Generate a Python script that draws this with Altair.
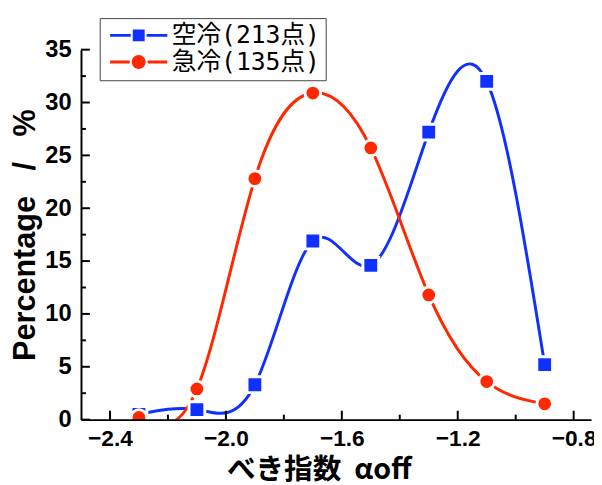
import altair as alt
import pandas as pd

# ---- data ----
alpha_off = [-2.3, -2.1, -1.9, -1.7, -1.5, -1.3, -1.1, -0.9]
air_cooled = [0.5, 0.95, 3.3, 16.9, 14.6, 27.2, 32.0, 5.2]      # 空冷(213点)
quenched = [0.2, 2.9, 22.8, 30.9, 25.7, 11.8, 3.6, 1.5]         # 急冷(135点)
series_names = ["空冷(213点)", "急冷(135点)"]
colors = ["#1030FF", "#FF2800"]
x_major = [-2.4, -2.0, -1.6, -1.2, -0.8]
x_minor = [-2.2, -1.8, -1.4, -1.0]
y_major = [0, 5, 10, 15, 20, 25, 30, 35]
y_minor = [2.5, 7.5, 12.5, 17.5, 22.5, 27.5, 32.5]

W, H = 517, 375

df = pd.DataFrame({
    "a": alpha_off + alpha_off,
    "p": air_cooled + quenched,
    "s": [series_names[0]] * len(alpha_off) + [series_names[1]] * len(alpha_off),
})

xs = alt.Scale(domain=[-2.5, -0.74], nice=False, zero=False)
ys = alt.Scale(domain=[0, 35], nice=False, zero=False)

main_x = alt.Axis(values=x_major, format=".1f", ticks=False, grid=False,
                  domainColor="black", domainWidth=2, zindex=1,
                  labelFont="Liberation Sans", labelFontWeight="bold", labelFontSize=23,
                  labelColor="black", labelPadding=8, labelFlush=False,
                  title="べき指数\u00a0\u00a0αoff", titleFont="Noto Sans CJK JP", titleFontSize=29,
                  titleFontWeight="bold", titleColor="black", titlePadding=6, titleX=241)
main_y = alt.Axis(values=y_major, format="d", ticks=False, grid=False,
                  domainColor="black", domainWidth=2, zindex=1,
                  labelFont="Liberation Sans", labelFontWeight="bold", labelFontSize=24,
                  labelColor="black", labelPadding=10, labelFlush=False,
                  title="Percentage\u00a0\u00a0\u00a0/\u00a0\u00a0\u00a0%", titleFont="Liberation Sans",
                  titleFontSize=31, titleFontWeight="bold", titleColor="black", titlePadding=3)

base = alt.Chart(df)

blue_line = base.transform_filter(alt.datum.s == series_names[0]).mark_line(
    interpolate="natural", clip=True, strokeWidth=3, color=colors[0]
).encode(x=alt.X("a:Q", scale=xs, axis=main_x), y=alt.Y("p:Q", scale=ys, axis=main_y))

red_line = base.transform_filter(alt.datum.s == series_names[1]).mark_line(
    interpolate="natural", clip=True, strokeWidth=3, color=colors[1]
).encode(x=alt.X("a:Q", scale=xs, axis=None), y=alt.Y("p:Q", scale=ys, axis=None))

blue_pts = base.transform_filter(alt.datum.s == series_names[0]).mark_square(
    clip=True, size=256, opacity=1, color=colors[0], stroke="white", strokeWidth=3
).encode(x=alt.X("a:Q", scale=xs, axis=None), y=alt.Y("p:Q", scale=ys, axis=None))

red_pts = base.transform_filter(alt.datum.s == series_names[1]).mark_circle(
    clip=True, size=254, opacity=1, color=colors[1], stroke="white", strokeWidth=3
).encode(x=alt.X("a:Q", scale=xs, axis=None), y=alt.Y("p:Q", scale=ys, axis=None))


# inward ticks drawn at the tick values through the scales
def x_ticks(vals, length):
    return alt.Chart(pd.DataFrame({"v": vals})).mark_rule(color="black", strokeWidth=2).encode(
        x=alt.X("v:Q", scale=xs, axis=None), y=alt.value(H), y2=alt.value(H - length))


def y_ticks(vals, length):
    return alt.Chart(pd.DataFrame({"v": vals})).mark_rule(color="black", strokeWidth=2).encode(
        y=alt.Y("v:Q", scale=ys, axis=None), x=alt.value(0), x2=alt.value(length))


path_sq = ("M-4.14,-0.21H-1.15V0.21H-4.14Z M-0.86,-0.86H0.86V0.86H-0.86Z "
           "M1.15,-0.21H4.14V0.21H1.15Z")
path_ci = ("M-4.14,-0.21H-1.3V0.21H-4.14Z M-1,0A1,1 0 1,1 1,0A1,1 0 1,1 -1,0Z "
           "M1.3,-0.21H4.14V0.21H1.3Z")

leg = alt.Legend(title=None, orient="none", legendX=19, legendY=-32, symbolSize=196,
                 symbolOffset=22, labelOffset=21, labelFont="DejaVu Sans Mono, Noto Sans CJK JP",
                 labelFontSize=25, labelColor="black", padding=5, strokeColor="#444",
                 fillColor="white", rowPadding=1, symbolStrokeWidth=0, labelLimit=0,
                 symbolOpacity=1)

legend_layer = base.transform_calculate(off="-100").mark_point(
    filled=True, clip=True, size=196, strokeWidth=0, opacity=1
).encode(
    x=alt.X("a:Q", scale=xs, axis=None),
    y=alt.Y("off:Q", scale=ys, axis=None),
    color=alt.Color("s:N", scale=alt.Scale(domain=series_names, range=colors), legend=leg),
    shape=alt.Shape("s:N", scale=alt.Scale(domain=series_names, range=[path_sq, path_ci]), legend=leg),
)

chart = alt.layer(
    blue_line, red_line, blue_pts, red_pts,
    x_ticks(x_major, 9), x_ticks(x_minor, 5), y_ticks(y_major, 9), y_ticks(y_minor, 5),
    legend_layer,
).resolve_scale(x="independent", y="independent").properties(
    width=W, height=H,
    padding={"left": 74, "top": 39, "right": 3, "bottom": 61},
    autosize=alt.AutoSizeParams(type="none"),
).configure_view(stroke=None)

chart.save("out.html", embed_options={"renderer": "svg", "actions": False})
